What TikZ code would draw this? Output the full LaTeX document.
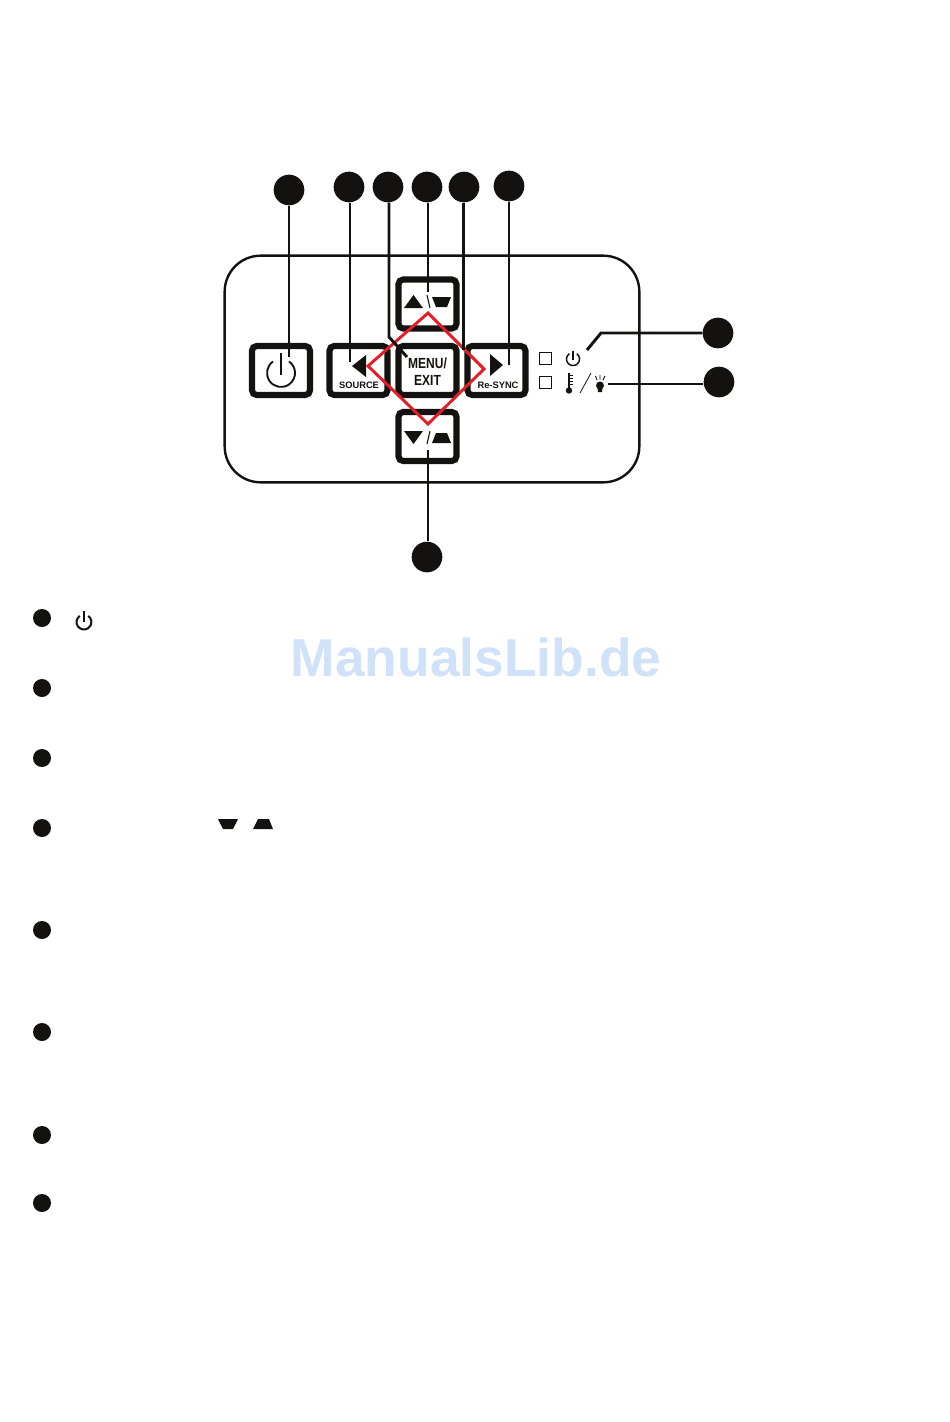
\documentclass[tikz,border=0pt]{standalone}
\usepackage{fontspec}
\usepackage{graphicx}
\setmainfont{Liberation Sans}
\usetikzlibrary{positioning}
\definecolor{inkblack}{HTML}{141211}
\definecolor{markred}{HTML}{E31E26}
\definecolor{markblue}{HTML}{CFE2FA}
\tikzset{
  button/.style={draw=inkblack,line width=4.6pt,rounded corners=3.5pt,minimum width=43.5pt,minimum height=36.75pt,inner sep=0pt},
  bigdot/.style={circle,fill=inkblack,minimum size=23pt,inner sep=0pt},
  smalldot/.style={circle,fill=inkblack,minimum size=13.5pt,inner sep=0pt},
  lead/.style={draw=inkblack,line width=2.2pt},
  ledbox/.style={draw=inkblack,line width=.8pt},
  smalllabel/.style={inner sep=0pt,text=inkblack,font=\bfseries\fontsize{7}{8}\selectfont},
  keylabel/.style={inner sep=0pt,text=inkblack,font=\bfseries\fontsize{11}{12}\selectfont}
}
\begin{document}
\begin{tikzpicture}[x=0.75pt,y=-0.75pt]
  \useasboundingbox (0,0) rectangle (950,1422);
  \fill[white] (0,0) rectangle (950,1422);

  % panel and buttons
  \node[draw=inkblack,line width=1.8pt,rounded corners=27pt,minimum width=311pt,minimum height=170pt,inner sep=0pt] (panel) at (432,369) {};
  \node[button] (power) at (281,370.5) {};
  \node[button] (source) at (358.5,370.5) {};
  \node[button] (menu) at (427.5,370.5) {};
  \node[button] (up) at (427.5,304) {};
  \node[button] (down) at (427.5,436.5) {};
  \node[button] (resync) at (496.5,370.5) {};

  % symbols on the buttons
  \draw[inkblack,line width=1.4pt] (273,361.5) arc[start angle=125,end angle=415,radius=10.5pt];
  \draw[inkblack,line width=1.4pt] (281,353) -- (281,375);
  \fill[inkblack] (352,366) -- (366,355) -- (366,377) -- cycle;
  \fill[inkblack] (503,365) -- (490,354) -- (490,376) -- cycle;
  \fill[inkblack] (413.5,295) -- (423,308) -- (404,308) -- cycle;
  \fill[inkblack] (432,297) -- (451,297) -- (447,307) -- (436,307) -- cycle;
  \draw[inkblack,line width=.8pt] (427,295) -- (430,308);
  \fill[inkblack] (413.5,444) -- (423,431) -- (404,431) -- cycle;
  \fill[inkblack] (436,433) -- (447,433) -- (451,443) -- (432,443) -- cycle;
  \draw[inkblack,line width=.8pt] (427,444) -- (430,431);
  \node[smalllabel] (sourcetext) at (359,385.5) {SOURCE};
  \node[smalllabel] (resynctext) at (498,385.5) {Re-SYNC};
  \node[keylabel] (menutext) at (427.5,363.5) {\scalebox{.82}[1]{MENU/}};
  \node[keylabel] (exittext) at (427.5,380) {\scalebox{.82}[1]{EXIT}};

  % leds
  \draw[ledbox] (539.5,352.5) rectangle (551.5,364.5);
  \draw[ledbox] (539.5,376.5) rectangle (551.5,388.5);
  \draw[inkblack,line width=1.1pt] (569.3,353.7) arc[start angle=125,end angle=415,radius=4.9pt];
  \draw[inkblack,line width=1.1pt] (573,351) -- (573,360);
  \draw[inkblack,line width=1pt] (569,373) -- (569,390);
  \fill[inkblack] (569,390.5) circle[radius=2.4pt];
  \foreach \y in {375,378,381,384} \draw[inkblack,line width=.5pt] (569,\y) -- (572.5,\y);
  \draw[inkblack,line width=.6pt] (580,393) -- (591,373);
  \fill[inkblack] (600,385.5) circle[radius=3pt];
  \fill[inkblack] (597.5,387) -- (602.5,387) -- (602,392) -- (598,392) -- cycle;
  \draw[inkblack,line width=.7pt] (595.5,376) -- (597,380) (600,375) -- (600,379.5) (605,376) -- (603,380);

  % red marking
  \draw[markred,line width=2.2pt,line join=miter] (428,313) -- (484,369) -- (428,424) -- (368,366) -- cycle;

  % numbered dots
  \node[bigdot] (c1) at (289,190) {};
  \node[bigdot] (c2) at (349,187) {};
  \node[bigdot] (c3) at (388,187) {};
  \node[bigdot] (c4) at (427,187) {};
  \node[bigdot] (c5) at (464,187) {};
  \node[bigdot] (c6) at (509,186) {};
  \node[bigdot] (c7) at (718,333) {};
  \node[bigdot] (c8) at (719,382) {};
  \node[bigdot] (c9) at (427,557) {};

  \coordinate (e1) at (289,357);
  \coordinate (e2) at (350,362);
  \coordinate (b3) at (389,337);
  \coordinate (e3) at (407,357);
  \coordinate (e4) at (428,292);
  \coordinate (e5) at (463.5,350);
  \coordinate (e6) at (509,365);
  \coordinate (b7) at (601,333);
  \coordinate (e7) at (587,350);
  \coordinate (e8) at (608,384);
  \coordinate (e9) at (428,450);

  \draw[lead] (c1) -- (e1);
  \draw[lead] (c2.south -| e2) -- (e2);
  \draw[lead] (c3.south -| b3) -- (b3) -- (e3);
  \draw[lead] (c4.south -| e4) -- (e4);
  \draw[lead] (c5.south -| e5) -- (e5);
  \draw[lead] (c6) -- (e6);
  \draw[lead] (c7) -- (b7) -- (e7);
  \draw[lead] (c8.west |- e8) -- (e8);
  \draw[lead] (c9.north -| e9) -- (e9);

  % list dots
  \foreach \n/\y in {1/618,2/688,3/758,4/828,5/930,6/1032,7/1135,8/1203}
    \node[smalldot] (d\n) at (42,\y) {};

  \draw[inkblack,line width=1.5pt] (79.7,615.9) arc[start angle=125,end angle=415,radius=5.6pt];
  \draw[inkblack,line width=1.5pt] (84,611) -- (84,622);
  \fill[inkblack] (218,819) -- (238,819) -- (233,829) -- (223,829) -- cycle;
  \fill[inkblack] (258,819) -- (269,819) -- (273,829) -- (253,829) -- cycle;

  \node[inner sep=0pt,text=markblue,font=\bfseries\fontsize{40}{42}\selectfont] (mark) at (476,657) {ManualsLib.de};
\end{tikzpicture}
\end{document}
